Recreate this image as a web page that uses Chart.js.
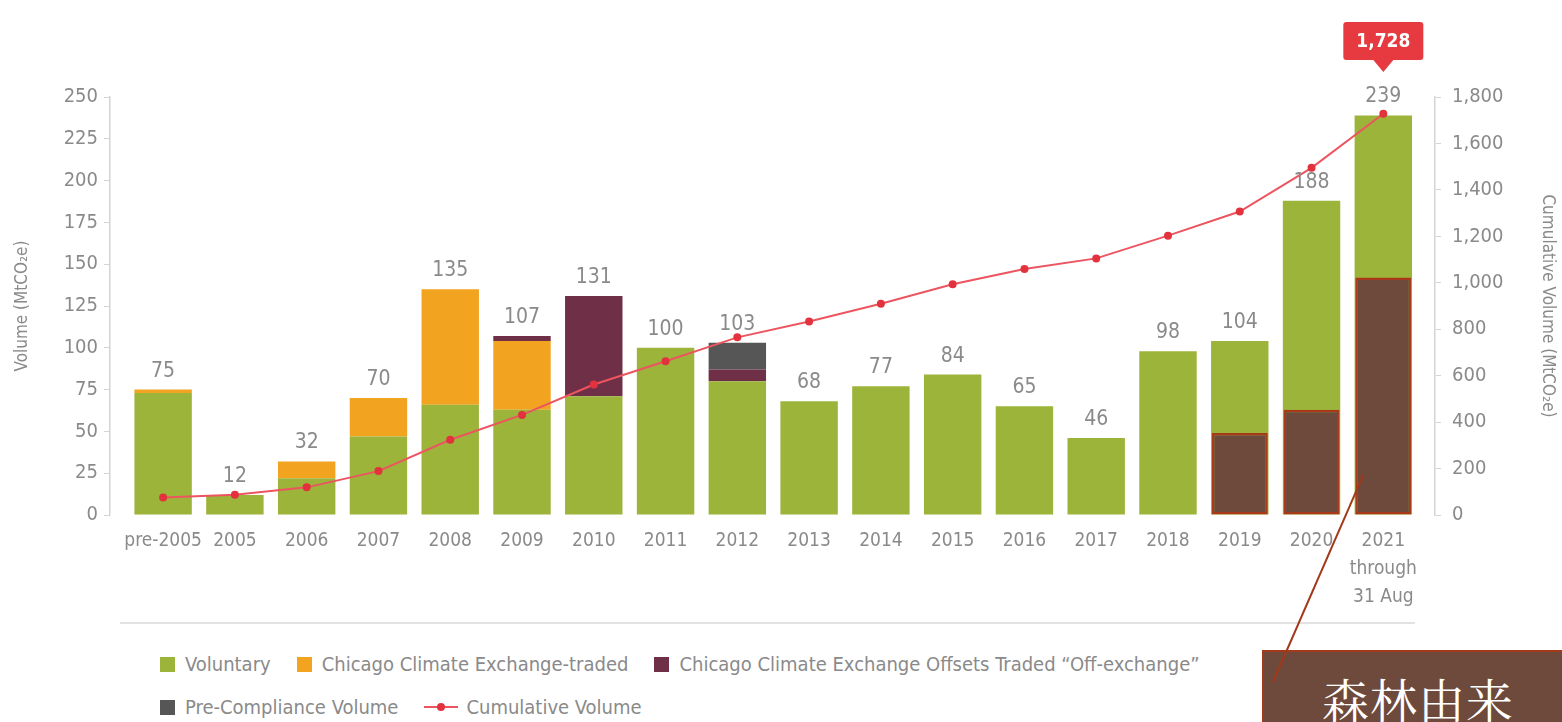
<!DOCTYPE html>
<html>
<head>
<meta charset="utf-8">
<script src="https://cdn.jsdelivr.net/npm/chart.js@4"></script>
<style>
  body { margin: 0; background: #fff; }
  #wrap { position: relative; width: 1562px; height: 722px; overflow: hidden; }
  #chart { position: absolute; left: 0; top: 0; z-index: 2; pointer-events: none; }
  .sep { position: absolute; left: 120px; top: 622px; width: 1295px; height: 2px; background: #e2e2e2; }
  .legend { position: absolute; left: 160px; font-family: 'DejaVu Sans', sans-serif; font-stretch: condensed;
            font-size: 20px; color: #8a8a8a; display: flex; align-items: center; white-space: nowrap; }
  .legend .item { display: flex; align-items: center; margin-right: 26px; }
  .legend .sw { width: 15px; height: 15px; margin-right: 10px; }
  .legend .ln { width: 34px; height: 2px; margin-right: 8px; position: relative; }
  .legend .ln i { position: absolute; left: 13px; top: -3px; width: 8px; height: 8px; border-radius: 50%; }
  .forest { position: absolute; left: 1262px; top: 650px; width: 320px; height: 100px; background: #6d4a3c;
            border-top: 2px solid #a3391b; border-left: 2px solid #a3391b; box-sizing: border-box; }
  .forest span { position: absolute; left: 58px; top: 12px; color: #fff; font-size: 47px; letter-spacing: 1px;
                 font-family: 'Noto Serif CJK JP', 'Noto Sans CJK JP', serif; }
</style>
</head>
<body>
<div id="wrap">
  <div class="sep"></div>
  <div class="legend" id="row1" style="top:652px"></div>
  <div class="legend" id="row2" style="top:695px"></div>
  <div class="forest"><span>森林由来</span></div>
  <canvas id="chart" width="1562" height="722"></canvas>
</div>
<script>
const years = ['pre-2005', '2005', '2006', '2007', '2008', '2009', '2010', '2011', '2012', '2013',
               '2014', '2015', '2016', '2017', '2018', '2019', '2020', ['2021', 'through', '31 Aug']];
const voluntary   = [73, 12, 22, 47, 66, 63, 71, 100, 80, 68, 77, 84, 65, 46, 98, 104, 188, 239];
const ccxTraded   = [2, 0, 10, 23, 69, 41, 0, 0, 0, 0, 0, 0, 0, 0, 0, 0, 0, 0];
const ccxOffsets  = [0, 0, 0, 0, 0, 3, 60, 0, 7, 0, 0, 0, 0, 0, 0, 0, 0, 0];
const preCompl    = [0, 0, 0, 0, 0, 0, 0, 0, 16, 0, 0, 0, 0, 0, 0, 0, 0, 0];
const totals      = [75, 12, 32, 70, 135, 107, 131, 100, 103, 68, 77, 84, 65, 46, 98, 104, 188, 239];
const cumulative  = [75, 87, 119, 189, 324, 431, 562, 662, 765, 833, 910, 994, 1059, 1105, 1203, 1307, 1495, 1728];
const forestShare = [null, null, null, null, null, null, null, null, null, null, null, null, null, null, null, 49, 63, 142];
const leftTicks = { max: 250, step: 25 };
const rightTicks = { max: 1800, step: 200 };

const FONT = "'DejaVu Sans Condensed', 'DejaVu Sans', sans-serif";
const GREY = '#8a8a8a';
const pts = arr => arr.map((v, i) => ({ x: i, y: v }));

const series = [
  { label: 'Voluntary', data: voluntary, color: '#9cb43a' },
  { label: 'Chicago Climate Exchange-traded', data: ccxTraded, color: '#f2a31f' },
  { label: 'Chicago Climate Exchange Offsets Traded \u201cOff-exchange\u201d', data: ccxOffsets, color: '#6f2f47' },
  { label: 'Pre-Compliance Volume', data: preCompl, color: '#565656' }
];

const datasets = series.map(s => ({
  type: 'bar', label: s.label, data: pts(s.data), backgroundColor: s.color,
  stack: 'main', yAxisID: 'y', order: 2, barPercentage: 0.8, categoryPercentage: 1
}));
datasets.push({
  type: 'bar', label: 'forest', data: pts(forestShare), backgroundColor: '#6d4a3c',
  borderColor: '#a8391a', borderWidth: 2.5, borderSkipped: false, stack: 'forest',
  grouped: false, yAxisID: 'y', order: 1, barPercentage: 0.78, categoryPercentage: 1
});
datasets.push({
  type: 'line', label: 'Cumulative Volume', data: pts(cumulative), yAxisID: 'y1', order: 0,
  borderColor: '#ec5560', borderWidth: 2, pointRadius: 4, pointBackgroundColor: '#e2323e',
  pointBorderWidth: 0, tension: 0
});

// legend (html)
const row1 = document.getElementById('row1');
const row2 = document.getElementById('row2');
series.forEach((s, i) => {
  const el = document.createElement('div');
  el.className = 'item';
  el.innerHTML = `<div class="sw" style="background:${s.color}"></div>${s.label}`;
  (i < 3 ? row1 : row2).appendChild(el);
});
const lineItem = document.createElement('div');
lineItem.className = 'item';
lineItem.innerHTML = `<div class="ln" style="background:#ec5560"><i style="background:#e2323e"></i></div>Cumulative Volume`;
row2.appendChild(lineItem);

const labelsPlugin = {
  id: 'labels',
  afterDatasetsDraw(chart) {
    const { ctx, scales: { x, y } } = chart;
    ctx.save();
    ctx.fillStyle = GREY;
    ctx.font = `21px ${FONT}`;
    ctx.textAlign = 'center';
    ctx.textBaseline = 'bottom';
    totals.forEach((t, i) => {
      ctx.fillText(String(t), x.getPixelForValue(i), y.getPixelForValue(t) - 8);
    });
    // callout for last cumulative value
    const last = cumulative.length - 1;
    const cx = x.getPixelForValue(last);
    const top = 22, h = 38, w = 80;
    ctx.fillStyle = '#e63a40';
    ctx.beginPath();
    ctx.roundRect(cx - w / 2, top, w, h, 3);
    ctx.fill();
    ctx.beginPath();
    ctx.moveTo(cx - 10, top + h);
    ctx.lineTo(cx + 10, top + h);
    ctx.lineTo(cx, top + h + 12);
    ctx.closePath();
    ctx.fill();
    ctx.fillStyle = '#fff';
    ctx.font = `bold 19px ${FONT}`;
    ctx.textBaseline = 'middle';
    ctx.fillText(cumulative[last].toLocaleString('en-US'), cx, top + h / 2 + 1);
    // pointer from annotation box to the 2021 bar
    ctx.strokeStyle = '#a3391b';
    ctx.lineWidth = 2;
    ctx.beginPath();
    ctx.moveTo(cx - 20, y.getPixelForValue(24));
    ctx.lineTo(1273, 682);
    ctx.stroke();
    ctx.restore();
  }
};

new Chart(document.getElementById('chart'), {
  data: { datasets },
  options: {
    responsive: false,
    animation: false,
    layout: { padding: { top: 97, left: 0, right: 0, bottom: 0 } },
    plugins: { legend: { display: false }, tooltip: { enabled: false } },
    scales: {
      x: {
        type: 'linear', min: -0.74, max: 17.72, stacked: true, offset: false,
        afterFit: s => { s.height = 207; },
        grid: { display: false, offset: false }, border: { display: false },
        ticks: {
          stepSize: 1, autoSkip: false, includeBounds: false, maxRotation: 0, padding: 4,
          color: GREY, font: { family: FONT, size: 19, lineHeight: 1.47 },
          callback: v => years[v] ?? ''
        }
      },
      y: {
        position: 'left', stacked: true, min: 0, max: leftTicks.max,
        afterFit: s => { s.width = 110; },
        grid: { drawOnChartArea: false, tickLength: 6, color: '#d4d4d4' },
        border: { color: '#d4d4d4', width: 1.5 },
        ticks: { stepSize: leftTicks.step, padding: 6, color: GREY, font: { family: FONT, size: 20 } },
        title: { display: true, text: 'Volume (MtCO\u2082e)', color: GREY, padding: { top: 12, bottom: 0 },
                 font: { family: FONT, size: 17 } }
      },
      y1: {
        position: 'right', min: 0, max: rightTicks.max,
        afterFit: s => { s.width = 127; },
        grid: { drawOnChartArea: false, tickLength: 6, color: '#d4d4d4' },
        border: { color: '#d4d4d4', width: 1.5 },
        ticks: { stepSize: rightTicks.step, padding: 11, color: GREY, font: { family: FONT, size: 20 },
                 callback: v => v.toLocaleString('en-US') },
        title: { display: true, text: 'Cumulative Volume (MtCO\u2082e)', color: GREY, padding: { top: 4, bottom: 0 },
                 font: { family: FONT, size: 17 } }
      }
    }
  },
  plugins: [labelsPlugin]
});
</script>
</body>
</html>
